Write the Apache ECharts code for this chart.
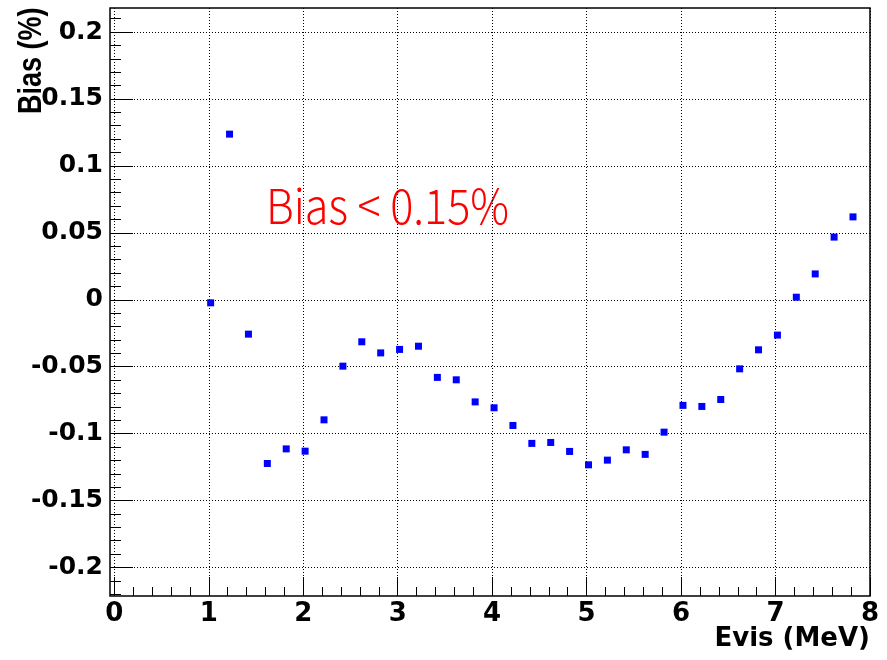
<!DOCTYPE html>
<html>
<head>
<meta charset="utf-8">
<script src="https://cdn.jsdelivr.net/npm/echarts@6/dist/echarts.min.js"></script>
<style>
  html, body { margin: 0; padding: 0; background: #ffffff; }
  #chart { width: 887px; height: 660px; }
</style>
</head>
<body>
<div id="chart"></div>
<script>
// Reconstructed energy bias versus visible energy
const evis = [1.02, 1.22, 1.42, 1.62, 1.82, 2.02, 2.22, 2.42, 2.62, 2.82,
              3.02, 3.22, 3.42, 3.62, 3.82, 4.02, 4.22, 4.42, 4.62, 4.82,
              5.02, 5.22, 5.42, 5.62, 5.82, 6.02, 6.22, 6.42, 6.62, 6.82,
              7.02, 7.22, 7.42, 7.62, 7.82];
const bias = [-0.0023, 0.1237, -0.0257, -0.1223, -0.1114, -0.1131, -0.0897, -0.0496, -0.0314, -0.0397,
              -0.0371, -0.0347, -0.0580, -0.0598, -0.0763, -0.0807, -0.0939, -0.1073, -0.1066, -0.1133,
              -0.1233, -0.1198, -0.1121, -0.1155, -0.0989, -0.0789, -0.0797, -0.0745, -0.0516, -0.0374,
              -0.0264, 0.0019, 0.0193, 0.0468, 0.0619];

const xTitle = 'Evis (MeV)';
const yTitle = 'Bias (%)';
const note = 'Bias < 0.15%';

const dotted = { color: '#000', width: 1, type: [1, 2] };
const tickFont = { fontFamily: 'DejaVu Sans', fontWeight: 'bold', color: '#000' };

const chart = echarts.init(document.getElementById('chart'), null, { renderer: 'canvas' });

const hiddenAxis = (grid, min, max) => ({
  gridIndex: grid, type: 'value', min: min, max: max, show: false
});

chart.setOption({
  backgroundColor: '#ffffff',
  animation: false,
  grid: [
    // frame
    { left: 110, right: 17, top: 8, bottom: 64, show: true, borderColor: '#000', borderWidth: 1.5, backgroundColor: 'transparent' },
    // x scale: 0..8
    { left: 114.3, right: 17, top: 8, bottom: 64 },
    // y scale: -0.2..0.2
    { left: 110, right: 17, top: 32, bottom: 92.5 },
    // y minor ticks: -0.22..0.21
    { left: 110, right: 17, top: 18.6, bottom: 65.7 },
    // data area
    { left: 114.3, right: 17, top: 32, bottom: 92.5 }
  ],
  xAxis: [
    hiddenAxis(0, 0, 1),
    {
      gridIndex: 1, type: 'value', min: 0, max: 8, interval: 1,
      axisLine: { show: false },
      axisTick: { show: true, inside: true, length: 19, lineStyle: { color: '#000', width: 1 } },
      minorTick: { show: true, splitNumber: 5, length: 9, lineStyle: { color: '#000', width: 1 } },
      splitLine: { show: true, lineStyle: dotted },
      axisLabel: Object.assign({ fontSize: 26, margin: 5, showMinLabel: true, showMaxLabel: true }, tickFont)
    },
    hiddenAxis(2, 0, 1),
    hiddenAxis(3, 0, 1),
    hiddenAxis(4, 0, 8)
  ],
  yAxis: [
    hiddenAxis(0, 0, 1),
    hiddenAxis(1, 0, 1),
    {
      gridIndex: 2, type: 'value', min: -0.2, max: 0.2, interval: 0.05,
      axisLine: { show: false },
      axisTick: { show: true, inside: true, length: 23, lineStyle: { color: '#000', width: 1 } },
      splitLine: { show: true, lineStyle: dotted },
      axisLabel: Object.assign({
        fontSize: 25, margin: 7,
        formatter: v => String(parseFloat(v.toFixed(2)))
      }, tickFont)
    },
    {
      gridIndex: 3, type: 'value', min: -0.22, max: 0.21, interval: 0.01,
      axisLine: { show: false },
      axisTick: { show: true, inside: true, length: 11, lineStyle: { color: '#000', width: 1 } },
      splitLine: { show: false },
      axisLabel: { show: false }
    },
    hiddenAxis(4, -0.2, 0.2)
  ],
  series: [{
    type: 'scatter',
    xAxisIndex: 4, yAxisIndex: 4,
    symbol: 'rect', symbolSize: 7,
    itemStyle: { color: '#0000ff', opacity: 1 },
    data: evis.map((x, i) => [x, bias[i]])
  }],
  graphic: [
    {
      type: 'text', x: 870, y: 639,
      style: { text: xTitle, align: 'right', verticalAlign: 'middle',
               fontFamily: 'DejaVu Sans', fontWeight: 'bold', fontSize: 26, fill: '#000' }
    },
    {
      type: 'text', x: 32.5, y: 7.5, rotation: Math.PI / 2, scaleY: 1.2,
      style: { text: yTitle, align: 'right', verticalAlign: 'middle',
               fontFamily: 'Liberation Sans', fontWeight: 'bold', fontSize: 27, fill: '#000' }
    },
    {
      type: 'text', x: 266, y: 205.5, scaleX: 0.9,
      style: { text: note, align: 'left', verticalAlign: 'middle',
               fontFamily: 'Noto Sans CJK SC', fontWeight: 300, fontSize: 48, fill: '#ff0000' }
    }
  ]
});
</script>
</body>
</html>
